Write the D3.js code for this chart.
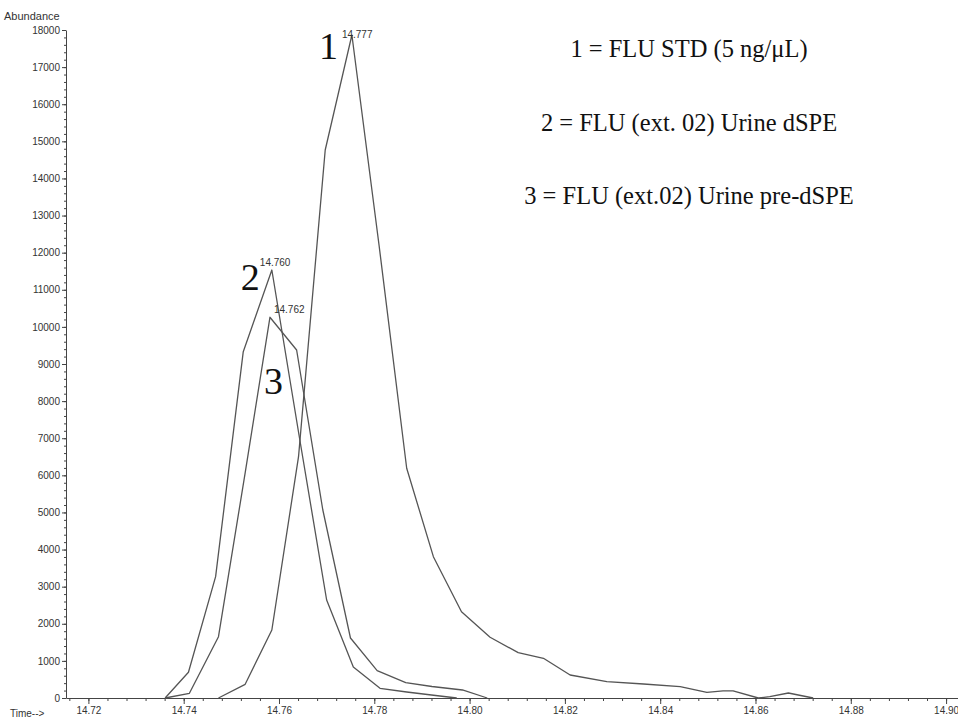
<!DOCTYPE html>
<meta charset="utf-8">
<head>
<style>
  body { margin: 0; background: #fff; }
  .axis text { font-family: "Liberation Sans", Arial, sans-serif; font-size: 10px; fill: #333; }
  .axis path, .axis line { stroke: #444; }
  .trace { fill: none; stroke: #555; stroke-width: 1.3; stroke-linejoin: round; }
  .rt { font-family: "Liberation Sans", Arial, sans-serif; font-size: 10px; fill: #333; }
</style>
</head>
<body>
<svg id="chart"></svg>
<script src="https://d3js.org/d3.v7.min.js"></script>
<script>

// retention times (min) and abundance
var time1 = [14.7473, 14.7529, 14.7585, 14.7641, 14.7697, 14.7753, 14.7810, 14.7868, 14.7924, 14.7983,
             14.8043, 14.8102, 14.8155, 14.8211, 14.8288, 14.8365, 14.8442, 14.8498, 14.8532, 14.8553,
             14.8606, 14.8630, 14.8669, 14.8721];
var abund1 = [0, 369, 1833, 6502, 14766, 17865, 12200, 6190, 3808, 2326,
              1636, 1221, 1070, 620, 439, 377, 305, 154, 190, 190,
              0, 35, 135, 0];

var time2 = [14.7361, 14.7410, 14.7467, 14.7525, 14.7585, 14.7642, 14.7700, 14.7756, 14.7812, 14.7868,
             14.7920, 14.7973];
var abund2 = [0, 693, 3269, 9332, 11533, 7087, 2641, 835, 261, 162, 81, 0];

var time3 = [14.7361, 14.7412, 14.7473, 14.7529, 14.7581, 14.7637, 14.7692, 14.7750, 14.7806, 14.7866,
             14.7921, 14.7985, 14.8037];
var abund3 = [0, 127, 1652, 6066, 10259, 9377, 5066, 1617, 736, 412, 310, 216, 0];

var xTicks = [14.72, 14.74, 14.76, 14.78, 14.80, 14.82, 14.84, 14.86, 14.88, 14.90];
var yTicks = [0, 1000, 2000, 3000, 4000, 5000, 6000, 7000, 8000, 9000,
              10000, 11000, 12000, 13000, 14000, 15000, 16000, 17000, 18000];

var peakNames = ["1", "2", "3"];
var peakTimes = ["14.777", "14.760", "14.762"];
var legendLines = ["1 = FLU STD (5 ng/\u03BCL)", "2 = FLU (ext. 02) Urine dSPE", "3 = FLU (ext.02) Urine pre-dSPE"];

var serif = "'Liberation Serif', 'Times New Roman', 'DejaVu Serif', serif";

var width = 958, height = 720;

var svg = d3.select("#chart")
    .attr("width", width)
    .attr("height", height);

var x = d3.scaleLinear()
    .domain([14.7153, 14.9025])
    .range([66, 958]);

var y = d3.scaleLinear()
    .domain([0, 18000])
    .range([698, 30]);

// minor ticks first, then the labelled ones
svg.append("g")
    .attr("class", "axis")
    .attr("transform", "translate(0,698)")
    .call(d3.axisBottom(x).tickValues(d3.range(0, 48).map(function(i) { return 14.716 + i * 0.004; }))
      .tickSize(3).tickFormat(""))
    .select(".domain").remove();

svg.append("g")
    .attr("class", "axis")
    .attr("transform", "translate(0,698)")
    .call(d3.axisBottom(x).tickValues(xTicks).tickSize(6).tickPadding(3)
      .tickSizeOuter(0).tickFormat(d3.format(".2f")));

svg.append("g")
    .attr("class", "axis")
    .attr("transform", "translate(66,0)")
    .call(d3.axisLeft(y).tickValues(d3.range(0, 18001, 200)).tickSize(2).tickFormat(""))
    .select(".domain").remove();

svg.append("g")
    .attr("class", "axis")
    .attr("transform", "translate(66,0)")
    .call(d3.axisLeft(y).tickValues(yTicks).tickSize(4).tickPadding(2).tickSizeOuter(0)
      .tickFormat(d3.format("d")));

svg.append("text").attr("class", "rt").attr("x", 4).attr("y", 20)
    .style("font-size", "11px").text("Abundance");
svg.append("text").attr("class", "rt").attr("x", 10).attr("y", 717).text("Time-->");

var line = d3.line()
    .x(function(d) { return x(d[0]); })
    .y(function(d) { return y(d[1]); });

var traces = [d3.zip(time1, abund1), d3.zip(time2, abund2), d3.zip(time3, abund3)];

svg.selectAll(".trace")
    .data(traces)
  .enter().append("path")
    .attr("class", "trace")
    .attr("d", line);

// apex labels
var apex = traces.map(function(t) { return t.reduce(function(a, b) { return b[1] > a[1] ? b : a; }); });
var rtOff = [[-10, 3], [-12, -4], [4, -4]];
var numOff = [[-33, 24], [-31, 20], [-6, 77]];

apex.forEach(function(p, i) {
  svg.append("text").attr("class", "rt")
      .attr("x", x(p[0]) + rtOff[i][0])
      .attr("y", y(p[1]) + rtOff[i][1])
      .text(peakTimes[i]);
  svg.append("text")
      .style("font-family", serif)
      .style("font-size", "38px")
      .attr("fill", "#111")
      .attr("x", x(p[0]) + numOff[i][0])
      .attr("y", y(p[1]) + numOff[i][1])
      .text(peakNames[i]);
});

svg.selectAll(".legendline")
    .data(legendLines)
  .enter().append("text")
    .attr("class", "legendline")
    .style("font-family", serif)
    .style("font-size", "24.5px")
    .attr("fill", "#111")
    .attr("x", 689)
    .attr("y", function(d, i) { return 57 + i * 73.5; })
    .attr("text-anchor", "middle")
    .text(function(d) { return d; });

</script>
</body>
